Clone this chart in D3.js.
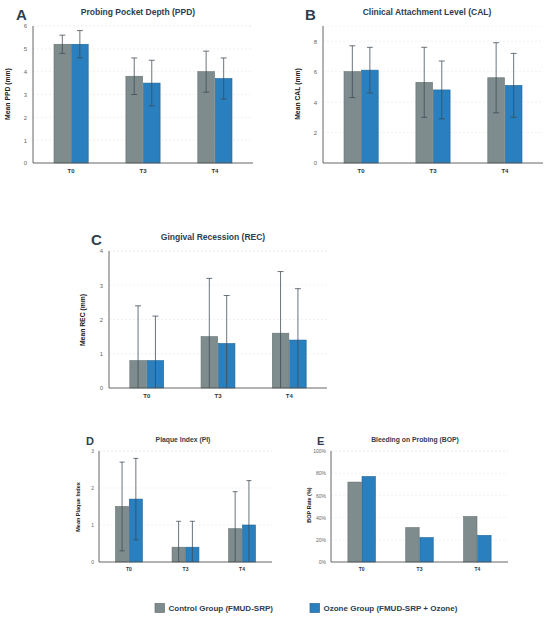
<!DOCTYPE html>
<html><head><meta charset="utf-8">
<script src="https://cdn.jsdelivr.net/npm/d3@7"></script>
<style>body{margin:0;background:#fff}svg{display:block}text{font-family:"Liberation Sans",Arial,sans-serif}</style>
</head><body>
<svg id="c" width="550" height="618"></svg>
<script>
const timepoints = ["T0","T3","T4"];
const groups = ["Control Group (FMUD-SRP)","Ozone Group (FMUD-SRP + Ozone)"];
const colors = ["#7f8c8d","#2a7fbf"];
const strokes = ["#66716f","#1f6698"];

// PPD
const ppdControl = [5.2,3.8,4.0], ppdControlSD = [0.4,0.8,0.9];
const ppdOzone = [5.2,3.5,3.7], ppdOzoneSD = [0.6,1.0,0.9];
// CAL
const calControl = [6.0,5.3,5.6], calControlSD = [1.7,2.3,2.3];
const calOzone = [6.1,4.8,5.1], calOzoneSD = [1.5,1.9,2.1];
// REC
const recControl = [0.8,1.5,1.6], recControlSD = [1.6,1.7,1.8];
const recOzone = [0.8,1.3,1.4], recOzoneSD = [1.3,1.4,1.5];
// PI
const piControl = [1.5,0.4,0.9], piControlSD = [1.2,0.7,1.0];
const piOzone = [1.7,0.4,1.0], piOzoneSD = [1.1,0.7,1.2];
// BOP
const bopControl = [0.72,0.31,0.41];
const bopOzone = [0.77,0.22,0.24];

const svg = d3.select("#c");

function panel(o){
  const g = svg.append("g");
  const x = d3.scaleBand().domain(timepoints).range([o.x0,o.x1]).paddingInner(0.5).paddingOuter(0.28);
  const xs = d3.scaleBand().domain([0,1]).range([0,x.bandwidth()]).padding(0.05);
  const y = d3.scaleLinear().domain([0,o.max]).range([o.yb,o.yt]);
  // grid
  g.append("g").selectAll("line").data(o.ticks.filter(t=>t>0)).join("line")
    .attr("x1",o.x0).attr("x2",o.x1).attr("y1",d=>y(d)).attr("y2",d=>y(d))
    .attr("stroke","#e8e8e8").attr("stroke-width",0.6).attr("stroke-dasharray","2,2");
  g.append("line").attr("x1",o.x0).attr("x2",o.x1).attr("y1",y(o.max)).attr("y2",y(o.max))
    .attr("stroke","#eeeeee").attr("stroke-width",0.6).attr("stroke-dasharray","2,2");
  // bars
  const series = [o.c,o.o];
  series.forEach((vals,si)=>{
    g.append("g").selectAll("rect").data(vals).join("rect")
      .attr("x",(d,i)=>x(timepoints[i])+xs(si)).attr("width",xs.bandwidth())
      .attr("y",d=>y(d)).attr("height",d=>y(0)-y(d))
      .attr("fill",colors[si]).attr("stroke",strokes[si]).attr("stroke-width",0.6);
  });
  // error bars
  if(o.csd){
    const sds=[o.csd,o.osd];
    series.forEach((vals,si)=>{
      vals.forEach((v,i)=>{
        const cx = x(timepoints[i])+xs(si)+xs.bandwidth()/2;
        const lo = Math.max(0,v-sds[si][i]), hi = v+sds[si][i];
        const eg = g.append("g").attr("stroke","#3d4a55").attr("stroke-width",0.9).attr("stroke-opacity",0.85);
        eg.append("line").attr("x1",cx).attr("x2",cx).attr("y1",y(lo)).attr("y2",y(hi));
        eg.append("line").attr("x1",cx-o.cap).attr("x2",cx+o.cap).attr("y1",y(hi)).attr("y2",y(hi));
        if(v-sds[si][i]>0) eg.append("line").attr("x1",cx-o.cap).attr("x2",cx+o.cap).attr("y1",y(lo)).attr("y2",y(lo));
      });
    });
  }
  // axes
  const ya = d3.axisLeft(y).tickValues(o.ticks).tickSize(0).tickPadding(o.tp).tickFormat(o.fmt||(d=>d));
  const yg = g.append("g").attr("transform",`translate(${o.x0},0)`).call(ya);
  yg.select(".domain").attr("stroke","#555").attr("stroke-width",0.9).attr("d",`M0,${o.yt}V${o.yb}`);
  yg.selectAll("text").attr("fill","#666").attr("font-size",o.tfs);
  const xa = d3.axisBottom(x).tickSize(0).tickPadding(o.xp);
  const xg = g.append("g").attr("transform",`translate(0,${o.yb})`).call(xa);
  xg.select(".domain").attr("stroke","#555").attr("stroke-width",0.9).attr("d",`M${o.x0},0H${o.x1}`);
  xg.selectAll("text").attr("fill","#333").attr("font-size",o.tfs).attr("font-weight","bold");
  // titles
  g.append("text").attr("x",o.tx).attr("y",o.ty).attr("text-anchor","middle")
    .attr("font-size",o.titfs).attr("font-weight","bold").attr("fill","#2c3e50").text(o.title);
  g.append("text").attr("x",o.lx).attr("y",o.ty+o.lfs*0.3).attr("font-size",o.lfs)
    .attr("font-weight","bold").attr("fill","#2c3e50").text(o.letter);
  g.append("text").attr("transform",`translate(${o.ylx},${o.yly}) rotate(-90)`)
    .attr("text-anchor","middle").attr("font-size",o.ylfs).attr("font-weight","bold").attr("fill","#222").text(o.ylabel);
}

panel({x0:33,x1:253,yt:26,yb:163,max:6,ticks:[0,1,2,3,4,5,6],c:ppdControl,o:ppdOzone,csd:ppdControlSD,osd:ppdOzoneSD,
  cap:3,tp:6,xp:6,tfs:6,title:"Probing Pocket Depth (PPD)",tx:138,ty:15,titfs:8.5,letter:"A",lx:16,lfs:15,
  ylabel:"Mean PPD (mm)",ylx:10,yly:94,ylfs:6.8});
panel({x0:323,x1:543,yt:26,yb:163,max:9,ticks:[0,2,4,6,8],c:calControl,o:calOzone,csd:calControlSD,osd:calOzoneSD,
  cap:3,tp:6,xp:6,tfs:6,title:"Clinical Attachment Level (CAL)",tx:427,ty:15,titfs:8.5,letter:"B",lx:305,lfs:15,
  ylabel:"Mean CAL (mm)",ylx:300,yly:94,ylfs:6.8});
panel({x0:109,x1:327,yt:251,yb:388,max:4,ticks:[0,1,2,3,4],c:recControl,o:recOzone,csd:recControlSD,osd:recOzoneSD,
  cap:3,tp:6,xp:6,tfs:6,title:"Gingival Recession (REC)",tx:213,ty:240,titfs:8.5,letter:"C",lx:91,lfs:15,
  ylabel:"Mean REC (mm)",ylx:85,yly:320,ylfs:6.8});
panel({x0:99,x1:272,yt:451,yb:562,max:3,ticks:[0,1,2,3],c:piControl,o:piOzone,csd:piControlSD,osd:piOzoneSD,
  cap:2.5,tp:5,xp:5,tfs:5,title:"Plaque Index (PI)",tx:183,ty:442,titfs:6.8,letter:"D",lx:86,lfs:11,
  ylabel:"Mean Plaque Index",ylx:80,yly:507,ylfs:5.5});
panel({x0:331,x1:508,yt:451,yb:562,max:1,ticks:[0,0.2,0.4,0.6,0.8,1],c:bopControl,o:bopOzone,fmt:d3.format(".0%"),
  cap:2.5,tp:5,xp:5,tfs:5,title:"Bleeding on Probing (BOP)",tx:415,ty:442,titfs:6.8,letter:"E",lx:317,lfs:11,
  ylabel:"BOP Rate (%)",ylx:311,yly:505,ylfs:5.5});

// legend
const leg = svg.append("g");
const legX = [155,310];
groups.forEach((gname,i)=>{
  leg.append("rect").attr("x",legX[i]).attr("y",603.5).attr("width",9.5).attr("height",9)
    .attr("fill",colors[i]).attr("stroke",strokes[i]).attr("stroke-width",0.7);
  leg.append("text").attr("x",legX[i]+13.5).attr("y",611).attr("font-size",8).attr("font-weight","bold")
    .attr("fill","#2c3e50").text(gname);
});
</script>
</body></html>
